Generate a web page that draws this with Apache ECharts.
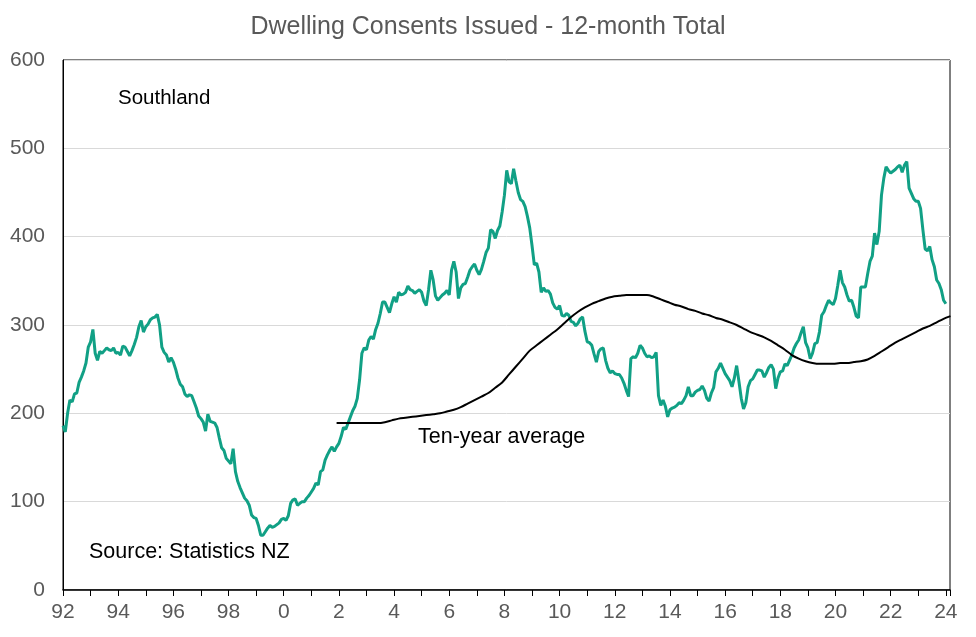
<!DOCTYPE html>
<html><head><meta charset="utf-8">
<script src="https://cdn.jsdelivr.net/npm/echarts@6/dist/echarts.min.js"></script>
<style>html,body{margin:0;padding:0;background:#fff}#c{width:976px;height:637px}</style>
</head><body><div id="c"></div><script>
// Monthly 12-month total dwelling consents, Southland, starting Jan 1992
const startYear = 1992;
const consents = [
  186,179,200,215,213,222,223,235,241,248,257,275, // 1992
  281,295,268,260,270,268,271,274,272,271,274,268, // 1993
  269,266,276,275,270,265,271,278,286,298,305,292, // 1994
  298,301,306,308,309,312,300,275,269,266,258,263, // 1995
  258,250,240,233,230,222,219,221,220,213,206,197, // 1996
  194,190,180,199,191,190,189,184,172,161,158,149, // 1997
  146,143,160,134,123,116,110,104,101,96,85,82,    // 1998
  81,73,62,62,66,70,73,71,72,74,76,80,             // 1999
  81,79,84,98,102,103,96,98,100,100,104,107,       // 2000
  111,115,121,119,134,136,147,153,158,162,157,162, // 2001
  166,174,184,182,189,196,203,208,217,238,268,274, // 2002
  272,283,287,284,295,302,313,326,326,320,314,324, // 2003
  332,326,337,334,335,337,344,340,339,336,338,340, // 2004
  337,327,322,340,362,351,333,328,331,334,336,339, // 2005
  334,362,372,360,330,342,346,347,354,362,366,369, // 2006
  362,357,363,372,382,387,408,406,398,407,412,428, // 2007
  447,475,462,460,477,463,450,442,440,434,423,410, // 2008
  390,368,370,360,337,342,338,339,335,325,320,318, // 2009
  322,311,310,313,311,304,303,299,302,307,309,293, // 2010
  281,280,277,267,258,270,273,274,260,251,246,248, // 2011
  245,244,244,240,234,226,219,262,264,263,268,277, // 2012
  274,268,264,265,263,264,269,220,209,215,208,196, // 2013
  204,206,207,209,212,211,215,220,230,220,220,224, // 2014
  226,227,231,226,217,214,223,229,247,251,257,251, // 2015
  245,241,237,230,240,254,236,217,205,212,230,237, // 2016
  239,244,249,249,248,241,246,252,255,250,228,240, // 2017
  247,248,256,254,260,266,274,279,283,291,298,280, // 2018
  274,262,268,279,280,292,311,315,322,328,325,323, // 2019
  330,345,362,348,343,334,327,328,320,310,308,343, // 2020
  343,343,358,372,378,404,391,406,447,466,479,475, // 2021
  472,474,476,479,481,473,481,485,455,449,443,440, // 2022
  440,432,408,386,384,389,374,366,351,347,340,328, // 2023
  324                                              // 2024
];
// Ten-year average, quarterly samples starting at month index 119 (Dec 2001)
const avgStartMonth = 119;
const avgStepMonths = 3;
const tenYearAvg = [
  189,189,189,189,189,189,189,190,192,194,195,196,197,198,199,200,202,204,207,211,
  215,219,223,229,235,244,253,262,271,277,283,289,295,302,309,315,320,324,327,330,
  332,333,334,334,334,334,332,329,326,323,321,318,316,313,311,308,306,303,300,296,
  292,289,286,282,277,272,266,262,259,257,256,256,256,257,257,258,259,261,265,270,
  275,280,284,288,292,296,299,303,307,310
];
const labelYears = [1992,1994,1996,1998,2000,2002,2004,2006,2008,2010,2012,2014,2016,2018,2020,2022,2024];
const yTicks = [0,100,200,300,400,500,600];

const font = "'Liberation Sans', Arial, sans-serif";
const chart = echarts.init(document.getElementById('c'));
chart.setOption({
  animation: false,
  backgroundColor: '#fff',
  title: {
    text: 'Dwelling Consents Issued - 12-month Total',
    left: 'center', top: 10,
    textStyle: {fontFamily: font, fontSize: 25, fontWeight: 'normal', color: '#595959'}
  },
  grid: {left: 63, right: 26, top: 60, bottom: 47, show: true, borderColor: '#000', borderWidth: 1},
  xAxis: {
    type: 'value', min: 1992, max: 2024.15, interval: 1,
    axisLine: {show: true, lineStyle: {color: '#000', width: 1.5}},
    axisTick: {show: true, length: 6, lineStyle: {color: '#000'}},
    splitLine: {show: false},
    axisLabel: {
      fontFamily: font, fontSize: 21, color: '#595959', margin: 12,
      formatter: v => {
        const y = Math.round(v);
        if (Math.abs(v - y) > 1e-6 || labelYears.indexOf(y) < 0) return '';
        return String(y % 100);
      }
    }
  },
  yAxis: {
    type: 'value', min: yTicks[0], max: yTicks[yTicks.length - 1], interval: 100,
    axisLine: {show: true, lineStyle: {color: '#000'}},
    axisTick: {show: false},
    splitLine: {show: true, lineStyle: {color: '#d9d9d9', width: 1}},
    axisLabel: {fontFamily: font, fontSize: 21, color: '#595959', margin: 18}
  },
  series: [
    {
      type: 'line', name: 'Southland', showSymbol: false,
      data: consents.map((v, i) => [startYear + i / 12, v]),
      lineStyle: {color: '#11a085', width: 3},
      z: 3
    },
    {
      type: 'line', name: 'Ten-year average', showSymbol: false, smooth: 0.3,
      data: tenYearAvg.map((v, i) => [startYear + (avgStartMonth + i * avgStepMonths) / 12, v]),
      lineStyle: {color: '#000', width: 2},
      z: 4
    }
  ],
  graphic: [
    {type: 'text', left: 118, top: 88, style: {text: 'Southland', font: "20.5px 'Liberation Sans', Arial, sans-serif", fill: '#000'}},
    {type: 'text', left: 418, top: 426, style: {text: 'Ten-year average', font: "21.5px 'Liberation Sans', Arial, sans-serif", fill: '#000'}},
    {type: 'text', left: 89, top: 541, style: {text: 'Source: Statistics NZ', font: "21.5px 'Liberation Sans', Arial, sans-serif", fill: '#000'}}
  ]
});
</script></body></html>
